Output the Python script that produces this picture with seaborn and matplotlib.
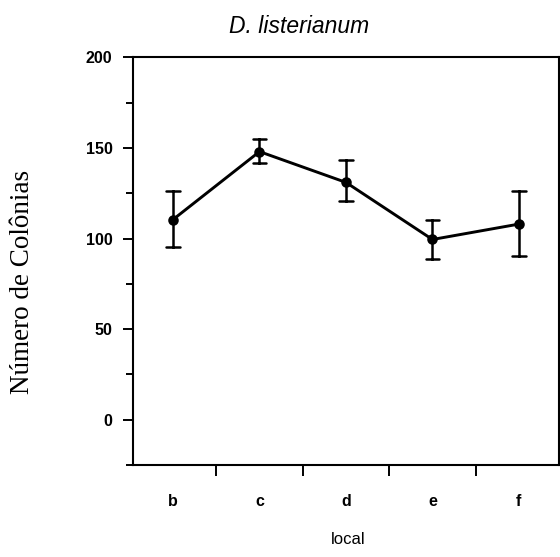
import numpy as np
import pandas as pd
import matplotlib
matplotlib.use('Agg')
import matplotlib.pyplot as plt
from matplotlib.ticker import MultipleLocator, FixedLocator
import seaborn as sns

# valores (media e limites das barras de erro)
locais = ['b', 'c', 'd', 'e', 'f']
media = [110.5, 148.0, 131.0, 99.5, 108.0]
limite_inf = [95.5, 141.5, 120.5, 89.0, 90.5]
limite_sup = [126.0, 155.0, 143.5, 110.5, 126.0]

# tabela longa: mediana de (inf, media, sup) = media, e o intervalo 0-100% = inf..sup
df = pd.DataFrame({
    'local': np.repeat(locais, 3),
    'colonias': np.ravel(np.column_stack([limite_inf, media, limite_sup])),
})

sns.set_theme(style='ticks')
plt.rcParams['font.family'] = ['Liberation Sans', 'DejaVu Sans']
plt.rcParams['text.color'] = 'black'
plt.rcParams['xtick.color'] = 'black'
plt.rcParams['ytick.color'] = 'black'

fig = plt.figure(figsize=(5.6, 5.57), dpi=100)
ax = fig.add_axes([0.237, 0.165, 0.761, 0.732])

sns.pointplot(data=df, x='local', y='colonias', order=locais,
              estimator='median', errorbar=('pi', 100), capsize=0.16,
              color='black', markers='o', markersize=6, linewidth=2.1,
              err_kws={'linewidth': 1.8}, ax=ax)

ax.set_ylim(-25, 200)
ax.set_xlim(-0.466, 4.462)
ax.yaxis.set_major_locator(MultipleLocator(50))
ax.yaxis.set_minor_locator(MultipleLocator(25))
ax.set_yticks([0, 50, 100, 150, 200])
ax.xaxis.set_minor_locator(FixedLocator(np.arange(len(locais) - 1) + 0.5))

ax.tick_params(axis='y', which='major', length=7.5, width=1.4, labelsize=11.5, pad=7)
ax.tick_params(axis='y', which='minor', length=5, width=1.4)
ax.tick_params(axis='x', which='major', length=0, labelsize=11.5, pad=21)
ax.tick_params(axis='x', which='minor', length=8, width=1.4)
for lab in ax.get_xticklabels() + ax.get_yticklabels():
    lab.set_fontweight('bold')

for s in ax.spines.values():
    s.set_linewidth(1.5)
    s.set_color('black')

ax.set_xlabel('')
ax.set_ylabel('')
fig.text(0.622, 0.018, 'local', ha='center', va='bottom', fontsize=12)
fig.text(0.534, 0.953, 'D. listerianum', ha='center', va='center',
         fontsize=16.5, style='italic')
fig.text(0.04, 0.494, 'Número de Colônias', ha='center', va='center',
         rotation=90, fontsize=19.5, family=['Liberation Serif', 'DejaVu Serif'])

fig.savefig('out.png', dpi=100)
